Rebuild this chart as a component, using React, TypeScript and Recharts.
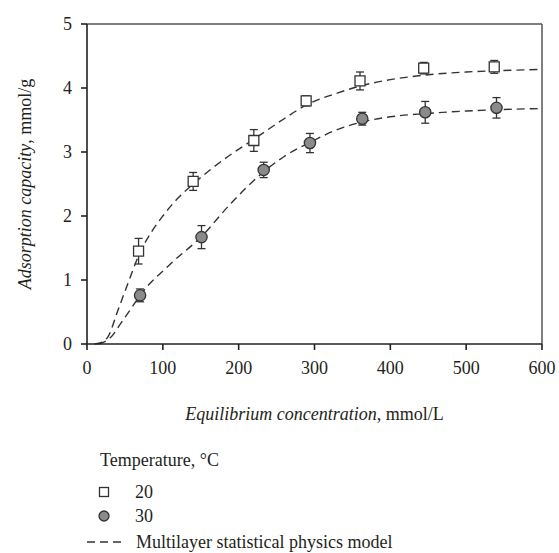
import { ComposedChart, Line, Scatter, ErrorBar, XAxis, YAxis, ZAxis, ReferenceLine, Label } from "recharts";

const xTicks = [0, 100, 200, 300, 400, 500, 600];
const yTicks = [0, 1, 2, 3, 4, 5];

// measured points, 20 °C
const t20X = [68, 140, 220, 289, 360, 444, 537];
const t20Y = [1.45, 2.54, 3.18, 3.8, 4.11, 4.31, 4.33];
const t20Err = [0.2, 0.14, 0.17, 0.08, 0.14, 0.09, 0.1];

// measured points, 30 °C
const t30X = [70, 151, 233, 294, 363, 446, 540];
const t30Y = [0.76, 1.67, 2.72, 3.14, 3.52, 3.62, 3.69];
const t30Err = [0.1, 0.18, 0.12, 0.15, 0.1, 0.17, 0.16];

// model curves
const fit20X = [10, 20, 28, 40, 55, 68, 85, 100, 120, 140, 180, 220, 260, 290, 330, 360, 400, 444, 500, 540, 600];
const fit20Y = [0, 0.03, 0.12, 0.5, 0.98, 1.38, 1.75, 2.0, 2.28, 2.5, 2.88, 3.2, 3.52, 3.74, 3.92, 4.03, 4.13, 4.2, 4.25, 4.27, 4.29];
const fit30X = [15, 22, 31, 45, 58, 70, 110, 151, 190, 232, 260, 294, 330, 363, 400, 446, 500, 540, 600];
const fit30Y = [0, 0.03, 0.1, 0.33, 0.55, 0.76, 1.25, 1.68, 2.2, 2.68, 2.93, 3.15, 3.35, 3.47, 3.55, 3.6, 3.64, 3.66, 3.68];

const zip = (xs: number[], ys: number[], es?: number[]) =>
  xs.map((x, i) => ({ x, y: ys[i], err: es ? es[i] : 0 }));

const pts20 = zip(t20X, t20Y, t20Err);
const pts30 = zip(t30X, t30Y, t30Err);
const fit20 = zip(fit20X, fit20Y);
const fit30 = zip(fit30X, fit30Y);

const FONT = "Liberation Serif, DejaVu Serif, serif";
const INK = "#231f20";

export default function App() {
  return (
    <div style={{ position: "absolute", left: 0, top: 0, width: 559, height: 553, background: "#fff", fontFamily: FONT, color: INK }}>
      <ComposedChart width={559} height={434} margin={{ top: 24, right: 17, bottom: 0, left: 0 }} style={{ fontFamily: FONT }}>
        <XAxis
          type="number"
          dataKey="x"
          domain={[0, 600]}
          ticks={xTicks}
          height={90}
          stroke={INK}
          strokeWidth={1.6}
          tickSize={6}
          tickMargin={11}
          tick={{ fill: INK, fontSize: 18, fontFamily: FONT }}
        >
          <Label
            content={({ viewBox }: any) => (
              <text x={viewBox.x + viewBox.width / 2} y={414} textAnchor="middle" dominantBaseline="central" fill={INK} fontSize={18} fontFamily={FONT}>
                <tspan fontStyle="italic">Equilibrium concentration</tspan>
                <tspan>, mmol/L</tspan>
              </text>
            )}
          />
        </XAxis>
        <YAxis
          type="number"
          dataKey="y"
          domain={[0, 5]}
          ticks={yTicks}
          width={87}
          stroke={INK}
          strokeWidth={1.6}
          tickSize={6}
          tickMargin={9}
          tick={{ fill: INK, fontSize: 18, fontFamily: FONT }}
        >
          <Label
            content={({ viewBox }: any) => (
              <text x={25} y={viewBox.y + viewBox.height / 2} transform={`rotate(-90, 25, ${viewBox.y + viewBox.height / 2})`} textAnchor="middle" dominantBaseline="central" fill={INK} fontSize={18} fontFamily={FONT}>
                <tspan fontStyle="italic">Adsorption capacity</tspan>
                <tspan>, mmol/g</tspan>
              </text>
            )}
          />
        </YAxis>
        <ZAxis range={[100, 100]} />
        <ReferenceLine y={5} stroke="#555" strokeWidth={1.5} />
        <ReferenceLine x={600} stroke="#555" strokeWidth={1.5} />
        <Line data={fit20} dataKey="y" type="monotone" stroke="#333" strokeWidth={1.4} strokeDasharray="8 5" dot={false} isAnimationActive={false} />
        <Line data={fit30} dataKey="y" type="monotone" stroke="#333" strokeWidth={1.4} strokeDasharray="8 5" dot={false} isAnimationActive={false} />
        <Scatter data={pts20} shape="square" fill="#fff" stroke="#333" strokeWidth={1.3} isAnimationActive={false}>
          <ErrorBar dataKey="err" direction="y" width={4} stroke="#333" strokeWidth={1.3} />
        </Scatter>
        <Scatter data={pts30} shape="circle" fill="#8a8a8a" stroke="#333" strokeWidth={1.3} isAnimationActive={false}>
          <ErrorBar dataKey="err" direction="y" width={4} stroke="#333" strokeWidth={1.3} />
        </Scatter>
      </ComposedChart>

      <div style={{ position: "absolute", left: 100, top: 449, fontSize: 18, lineHeight: "22px" }}>Temperature, °C</div>
      <svg style={{ position: "absolute", left: 80, top: 480 }} width={50} height={72}>
        <rect x={19.5} y={7.5} width={9} height={9} fill="#fff" stroke="#333" strokeWidth={1.3} />
        <circle cx={24} cy={36} r={5} fill="#8a8a8a" stroke="#333" strokeWidth={1.3} />
        <line x1={7} y1={62} x2={42} y2={62} stroke="#333" strokeWidth={1.4} strokeDasharray="8 5" />
      </svg>
      <div style={{ position: "absolute", left: 135, top: 481, fontSize: 18, lineHeight: "22px" }}>20</div>
      <div style={{ position: "absolute", left: 135, top: 505, fontSize: 18, lineHeight: "22px" }}>30</div>
      <div style={{ position: "absolute", left: 136, top: 531, fontSize: 18, lineHeight: "22px", whiteSpace: "nowrap" }}>Multilayer statistical physics model</div>
    </div>
  );
}
